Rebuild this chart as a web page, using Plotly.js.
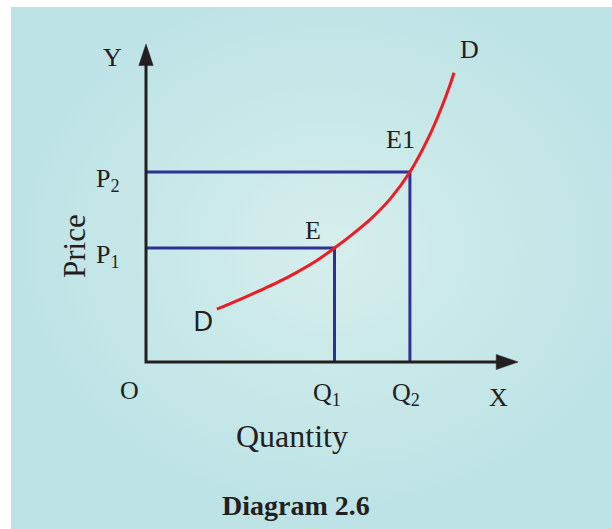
<!DOCTYPE html>
<html>
<head>
<meta charset="utf-8">
<script src="https://cdn.plot.ly/plotly-3.0.1.min.js"></script>
<style>
  html, body { margin: 0; padding: 0; background: #ffffff; }
  #wrap { position: relative; width: 612px; height: 529px; overflow: hidden; }
  #bg { position: absolute; left: 11px; top: 7px; width: 601px; height: 522px;
        background: radial-gradient(ellipse 310px 260px at 320px 240px, #d7eeec 0%, #cae9e9 45%, #bee3e6 100%); }
  #chart { position: absolute; left: 0; top: 0; width: 612px; height: 529px; }
</style>
</head>
<body>
<div id="wrap"><div id="bg"></div><div id="chart"></div></div>
<script>
// ---- data ----
const quantities = [5, 7];                 // Q1, Q2
const prices = [3, 5];                     // P1, P2
const qLabels = ['Q<sub>1</sub>', 'Q<sub>2</sub>'];
const pLabels = ['P<sub>1</sub>', 'P<sub>2</sub>'];
const pointLabels = ['E', 'E1'];
const curveQ = [1.88, 2.5, 3.0, 3.5, 4.0, 4.5, 5.0, 5.5, 6.0, 6.5, 7.0, 7.5, 7.8, 8.05, 8.17];
const curveP = [1.39, 1.65, 1.87, 2.10, 2.36, 2.65, 3.0, 3.38, 3.80, 4.32, 5.0, 5.92, 6.6, 7.25, 7.61];
const curveLabel = 'D';
const axisNames = { x: 'X', y: 'Y', origin: 'O', xTitle: 'Quantity', yTitle: 'Price', caption: 'Diagram 2.6' };

// ---- geometry (axis extents) ----
const xEnd = 9.87, yEnd = 8.37;          // arrow tips
const xHeadLen = 0.56, xHeadHalf = 0.20;  // x arrow head (len in x units, half width in y units)
const yHeadLen = 0.55, yHeadHalf = 0.19;  // y arrow head

const ink = '#231f20', blue = '#2e3192', red = '#ed1c24';
const serif = 'Liberation Serif, Times New Roman, serif';

const traces = [];
// guide lines
for (let i = 0; i < quantities.length; i++) {
  traces.push({ x: [0, quantities[i], quantities[i]], y: [prices[i], prices[i], 0],
    mode: 'lines', line: { color: blue, width: 3 }, hoverinfo: 'skip', showlegend: false });
}
// demand curve
traces.push({ x: curveQ, y: curveP, mode: 'lines', line: { color: red, width: 3, shape: 'spline', smoothing: 1 },
  hoverinfo: 'skip', showlegend: false });
// axes
traces.push({ x: [xEnd - xHeadLen, 0, 0], y: [0, 0, yEnd - yHeadLen], mode: 'lines',
  line: { color: ink, width: 3 }, hoverinfo: 'skip', showlegend: false });
// arrow heads
traces.push({ x: [xEnd - xHeadLen - 0.02, xEnd, xEnd - xHeadLen - 0.02, xEnd - xHeadLen - 0.02],
  y: [xHeadHalf, 0, -xHeadHalf, xHeadHalf], mode: 'lines', fill: 'toself', fillcolor: ink,
  line: { color: ink, width: 0.5 }, hoverinfo: 'skip', showlegend: false });
traces.push({ x: [-yHeadHalf, 0, yHeadHalf, -yHeadHalf],
  y: [yEnd - yHeadLen - 0.02, yEnd, yEnd - yHeadLen - 0.02, yEnd - yHeadLen - 0.02], mode: 'lines', fill: 'toself', fillcolor: ink,
  line: { color: ink, width: 0.5 }, hoverinfo: 'skip', showlegend: false });

const lf = (size) => ({ family: serif, size: size, color: ink });
const ann = [];
// tick-like labels
for (let i = 0; i < quantities.length; i++) {
  ann.push({ x: quantities[i], y: 0, xref: 'x', yref: 'y', text: qLabels[i], showarrow: false,
    xanchor: 'center', yanchor: 'middle', xshift: i === 0 ? -8 : -4, yshift: -32, font: lf(26) });
  ann.push({ x: 0, y: prices[i], xref: 'x', yref: 'y', text: pLabels[i], showarrow: false,
    xanchor: 'right', yanchor: 'middle', xshift: -24, yshift: -8, font: lf(26) });
}
// point labels
ann.push({ x: quantities[0], y: prices[0], xref: 'x', yref: 'y', text: pointLabels[0], showarrow: false,
  xanchor: 'center', yanchor: 'middle', xshift: -22, yshift: 18, font: lf(26) });
ann.push({ x: quantities[1], y: prices[1], xref: 'x', yref: 'y', text: pointLabels[1], showarrow: false,
  xanchor: 'center', yanchor: 'middle', xshift: -9, yshift: 33, font: lf(26) });
// curve labels
ann.push({ x: curveQ[curveQ.length - 1], y: curveP[curveP.length - 1], xref: 'x', yref: 'y', text: curveLabel,
  showarrow: false, xanchor: 'center', yanchor: 'middle', xshift: 15, yshift: 23, font: lf(26) });
ann.push({ x: curveQ[0], y: curveP[0], xref: 'x', yref: 'y', text: curveLabel,
  showarrow: false, xanchor: 'center', yanchor: 'middle', xshift: -14, yshift: -11,
  font: { family: 'Noto Sans, Open Sans, sans-serif', size: 28, color: ink } });
// axis letters
ann.push({ x: 0, y: 0, xref: 'x', yref: 'y', text: axisNames.origin, showarrow: false,
  xanchor: 'center', yanchor: 'middle', xshift: -17, yshift: -28, font: lf(26) });
ann.push({ x: xEnd, y: 0, xref: 'x', yref: 'y', text: axisNames.x, showarrow: false,
  xanchor: 'center', yanchor: 'middle', xshift: -20, yshift: -35, font: lf(26) });
ann.push({ x: 0, y: yEnd, xref: 'x', yref: 'y', text: axisNames.y, showarrow: false,
  xanchor: 'center', yanchor: 'middle', xshift: -34, yshift: -14, font: lf(26) });
// titles
ann.push({ x: 291.5 / 612, y: 1 - 436 / 529, xref: 'paper', yref: 'paper', text: axisNames.xTitle, showarrow: false,
  xanchor: 'center', yanchor: 'middle', font: lf(32) });
ann.push({ x: 74 / 612, y: 1 - 246 / 529, xref: 'paper', yref: 'paper', text: axisNames.yTitle, showarrow: false,
  xanchor: 'center', yanchor: 'middle', textangle: -90, font: lf(31) });
ann.push({ x: 296 / 612, y: 1 - 505 / 529, xref: 'paper', yref: 'paper', text: '<b>' + axisNames.caption + '</b>', showarrow: false,
  xanchor: 'center', yanchor: 'middle', font: lf(28) });

const layout = {
  width: 612, height: 529,
  margin: { l: 0, r: 0, t: 0, b: 0 },
  paper_bgcolor: 'rgba(0,0,0,0)', plot_bgcolor: 'rgba(0,0,0,0)',
  xaxis: { range: [-146 / 37.7, 466 / 37.7], visible: false, fixedrange: true },
  yaxis: { range: [-167 / 38, 362 / 38], visible: false, fixedrange: true },
  annotations: ann,
  showlegend: false
};
Plotly.newPlot('chart', traces, layout, { displayModeBar: false, staticPlot: true });
</script>
</body>
</html>
